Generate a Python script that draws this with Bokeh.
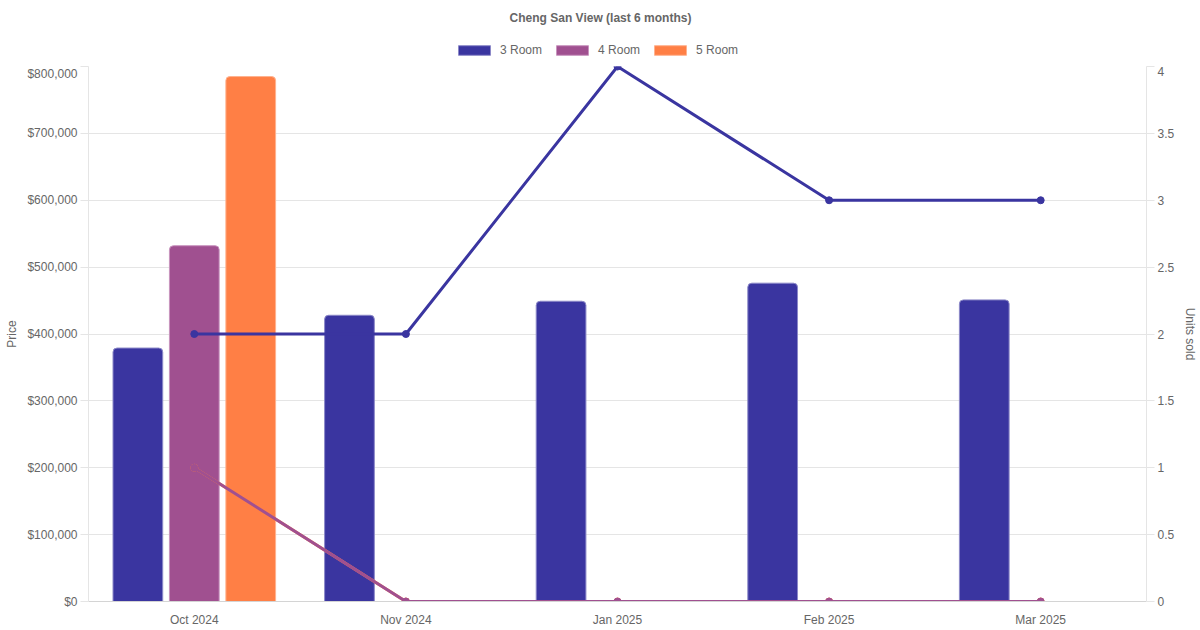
from bokeh.plotting import figure
from bokeh.layouts import column
from bokeh.models import (FactorRange, Range1d, LinearAxis, NumeralTickFormatter,
                          Legend, LegendItem, ColumnDataSource, FixedTicker, Label)
from bokeh.transform import dodge
from bokeh.embed import file_html
from bokeh.resources import INLINE

# ---- data ----
title_text = "Cheng San View (last 6 months)"
months = ["Oct 2024", "Nov 2024", "Jan 2025", "Feb 2025", "Mar 2025"]
series_names = ["3 Room", "4 Room", "5 Room"]
price_3room = [379000, 428000, 449000, 476000, 451000]
months_4room = ["Oct 2024"]
price_4room = [532000]
months_5room = ["Oct 2024"]
price_5room = [785000]
units_3room = [2, 2, 4, 3, 3]
units_4room = [1, 0, 0, 0, 0]
units_5room = [1, 0, 0, 0, 0]
price_ticks = [0, 100000, 200000, 300000, 400000, 500000, 600000, 700000, 800000]
unit_ticks = [0, 0.5, 1, 1.5, 2, 2.5, 3, 3.5, 4]
unit_tick_labels = ["0", "0.5", "1", "1.5", "2", "2.5", "3", "3.5", "4"]

C3 = "#3a35a0"
C4 = "#a05090"
C5 = "#ff7f45"
E3 = "#8c89c8"
E4 = "#c894be"
E5 = "#ffb28f"
TXT = "#666666"
GRID = "#e5e5e5"
FONT = "Liberation Sans"

LEFT, FRAME_W, RIGHT = 88, 1058, 54
TOP_H = 66

# ---------- header (title + legend); its frame is aligned with the main frame ----------
hdr = figure(width=LEFT + FRAME_W + RIGHT, height=TOP_H, x_range=Range1d(0, FRAME_W),
             y_range=Range1d(0, TOP_H), output_backend="svg", toolbar_location=None,
             x_axis_location=None, y_axis_location=None,
             min_border_left=LEFT, min_border_right=RIGHT, min_border_top=0, min_border_bottom=0)
hdr.outline_line_color = None
hdr.grid.visible = False
hdr.add_layout(Label(x=512, y=49, x_units="screen", y_units="screen", text=title_text,
                     text_align="center", text_baseline="middle", text_font=FONT,
                     text_font_size="12px", text_font_style="bold", text_color=TXT))
# legend proxies (placed outside the header's visible range)
proxy = ColumnDataSource(dict(x=[-1000], top=[0]))
d3 = hdr.vbar(x="x", top="top", width=1, source=proxy, fill_color=C3, line_color=E3)
d4 = hdr.vbar(x="x", top="top", width=1, source=proxy, fill_color=C4, line_color=E4)
d5 = hdr.vbar(x="x", top="top", width=1, source=proxy, fill_color=C5, line_color=E5)
legend = Legend(items=[LegendItem(label=series_names[0], renderers=[d3]),
                       LegendItem(label=series_names[1], renderers=[d4]),
                       LegendItem(label=series_names[2], renderers=[d5])],
                orientation="horizontal", location=(366, 9),
                glyph_width=40, glyph_height=12, label_standoff=6, spacing=10,
                padding=0, margin=0, border_line_color=None, background_fill_alpha=0,
                label_text_font=FONT, label_text_font_size="12px", label_text_color=TXT)
hdr.add_layout(legend, "center")

# ---------- main chart ----------
p = figure(x_range=FactorRange(factors=months), y_range=Range1d(0, 800000),
           frame_width=FRAME_W, frame_height=535, output_backend="svg", toolbar_location=None,
           min_border_left=LEFT, min_border_right=RIGHT, min_border_top=0, min_border_bottom=29)
p.extra_y_ranges = {"units": Range1d(0, 4)}
p.outline_line_color = None
p.xgrid.visible = False
p.ygrid.grid_line_color = GRID
p.ygrid.ticker = FixedTicker(ticks=price_ticks)

s3 = ColumnDataSource(dict(month=months, price=price_3room, units=units_3room))
s4 = ColumnDataSource(dict(month=months_4room, price=price_4room))
s5 = ColumnDataSource(dict(month=months_5room, price=price_5room))
l4 = ColumnDataSource(dict(month=months, units=units_4room))
l5 = ColumnDataSource(dict(month=months, units=units_5room))

off = 0.2667
bw = 0.235
p.vbar(x=dodge("month", -off, range=p.x_range), top="price", width=bw, source=s3,
       fill_color=C3, line_color=E3, line_width=1, border_radius=(4, 4, 0, 0))
p.vbar(x=dodge("month", 0, range=p.x_range), top="price", width=bw, source=s4,
       fill_color=C4, line_color=E4, line_width=1, border_radius=(4, 4, 0, 0))
p.vbar(x=dodge("month", off, range=p.x_range), top="price", width=bw, source=s5,
       fill_color=C5, line_color=E5, line_width=1, border_radius=(4, 4, 0, 0))

p.line(x="month", y="units", source=l5, y_range_name="units", line_color=C5, line_width=3)
p.scatter(x="month", y="units", source=l5, y_range_name="units", size=7, fill_color=C5, line_color=C5)
p.line(x="month", y="units", source=l4, y_range_name="units", line_color=C4, line_width=3)
p.scatter(x="month", y="units", source=l4, y_range_name="units", size=7, fill_color=C4, line_color=C4)
p.line(x="month", y="units", source=s3, y_range_name="units", line_color=C3, line_width=3)
p.scatter(x="month", y="units", source=s3, y_range_name="units", size=7, fill_color=C3, line_color=C3)

ya = p.yaxis[0]
ya.ticker = FixedTicker(ticks=price_ticks)
ya.formatter = NumeralTickFormatter(format="$0,0")
ya.axis_label = "Price"

ra = LinearAxis(y_range_name="units", axis_label="Units sold",
                ticker=FixedTicker(ticks=unit_ticks))
ra.major_label_overrides = {t: l for t, l in zip(unit_ticks, unit_tick_labels)}
p.add_layout(ra, "right")

for ax in [ya, ra]:
    ax.axis_line_color = GRID
    ax.major_tick_line_color = GRID
    ax.major_tick_out = 8
    ax.major_tick_in = 0
    ax.minor_tick_line_color = None
    ax.major_label_standoff = 3
ya.axis_label_standoff = 5
ra.axis_label_standoff = 6

xa = p.xaxis[0]
xa.axis_line_color = "#d4d4d4"
xa.major_tick_line_color = None
xa.major_tick_out = 0
xa.major_tick_in = 0
xa.minor_tick_line_color = None
xa.major_label_standoff = 11
xa.axis_label_standoff = 0

for ax in [ya, ra, xa]:
    ax.major_label_text_font = FONT
    ax.major_label_text_font_size = "12px"
    ax.major_label_text_color = TXT
    ax.axis_label_text_font = FONT
    ax.axis_label_text_font_size = "12px"
    ax.axis_label_text_color = TXT
    ax.axis_label_text_font_style = "normal"

layout = column(hdr, p, spacing=0)
open("out.html", "w").write(file_html(layout, INLINE))
